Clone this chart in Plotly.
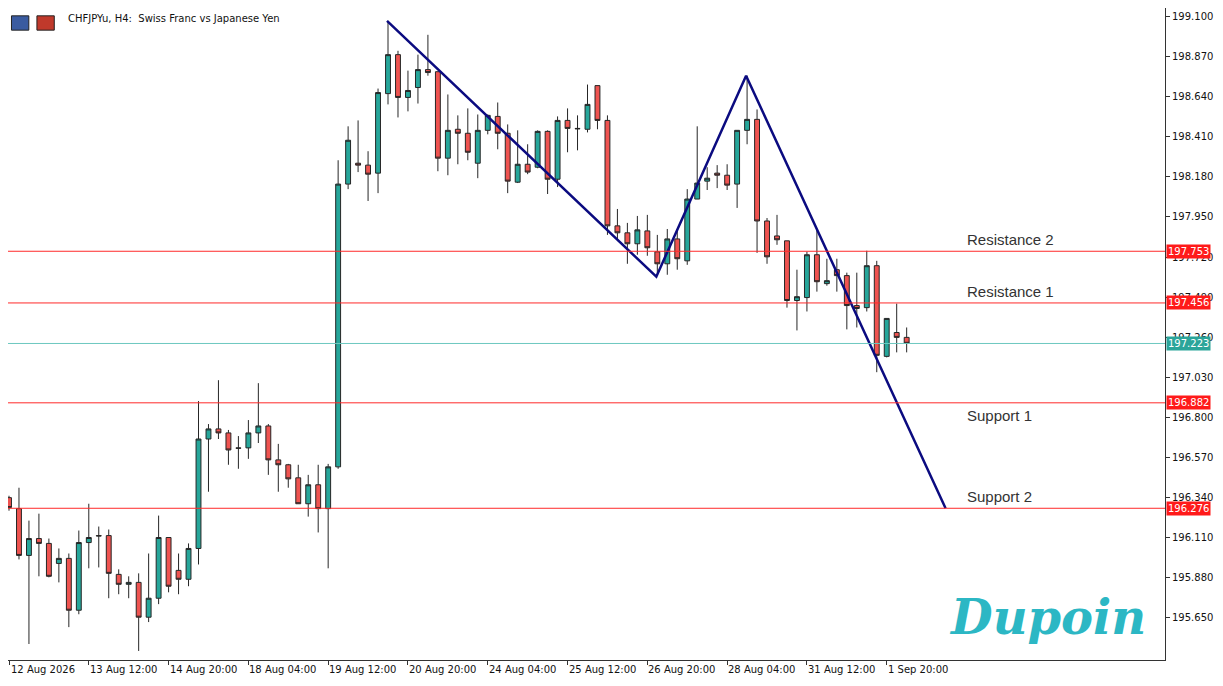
import plotly.graph_objects as go

# OHLC per H4 bar
opens = [196.337, 196.274, 196.005, 196.102, 196.074, 195.959, 195.988, 195.690, 196.079, 196.119,
         196.119, 195.896, 195.839, 195.850, 195.650, 195.759, 196.108, 195.919, 195.868, 196.045,
         196.674, 196.732, 196.709, 196.623, 196.623, 196.709, 196.749, 196.554, 196.526, 196.451,
         196.302, 196.411, 196.274, 196.514, 198.139, 198.259, 198.248, 198.202, 198.659, 198.883,
         198.637, 198.694, 198.797, 198.785, 198.288, 198.454, 198.431, 198.259, 198.448, 198.528,
         198.431, 198.150, 198.253, 198.236, 198.442, 198.167, 198.505, 198.459, 198.454, 198.705,
         198.505, 197.899, 197.859, 197.796, 197.870, 197.750, 197.681, 197.824, 197.698, 198.053,
         198.156, 198.202, 198.190, 198.139, 198.448, 198.511, 197.927, 197.841, 197.813, 197.470,
         197.487, 197.733, 197.567, 197.647, 197.613, 197.441, 197.429, 197.670, 197.149, 197.286,
         197.258]
highs = [196.348, 196.394, 196.205, 196.245, 196.102, 196.045, 196.016, 196.148, 196.302, 196.171,
         196.154, 195.925, 195.885, 195.902, 196.016, 196.234, 196.108, 196.016, 196.074, 196.892,
         196.760, 197.012, 196.726, 196.691, 196.783, 196.995, 196.760, 196.646, 196.531, 196.526,
         196.468, 196.526, 196.531, 198.276, 198.471, 198.505, 198.328, 198.688, 199.077, 198.905,
         198.791, 198.883, 198.997, 198.785, 198.654, 198.534, 198.574, 198.539, 198.539, 198.608,
         198.482, 198.448, 198.368, 198.448, 198.448, 198.528, 198.574, 198.534, 198.711, 198.705,
         198.534, 197.996, 197.916, 197.956, 197.962, 197.847, 197.881, 197.881, 198.110, 198.471,
         198.236, 198.248, 198.253, 198.448, 198.762, 198.568, 197.944, 197.962, 197.813, 197.647,
         197.750, 197.876, 197.710, 197.710, 197.630, 197.630, 197.756, 197.698, 197.367, 197.452,
         197.315]
lows = [196.262, 195.982, 195.496, 195.885, 195.879, 195.850, 195.593, 195.667, 195.931, 195.936,
        195.759, 195.782, 195.759, 195.456, 195.622, 195.725, 195.793, 195.782, 195.828, 195.953,
        196.371, 196.674, 196.526, 196.503, 196.560, 196.651, 196.468, 196.371, 196.394, 196.302,
        196.228, 196.137, 195.931, 196.503, 198.110, 198.208, 198.042, 198.087, 198.597, 198.522,
        198.557, 198.602, 198.762, 198.213, 198.190, 198.253, 198.276, 198.173, 198.425, 198.339,
        198.087, 198.145, 198.196, 198.230, 198.082, 198.122, 198.322, 198.333, 198.436, 198.454,
        197.847, 197.824, 197.681, 197.733, 197.727, 197.624, 197.618, 197.647, 197.675, 198.053,
        198.105, 198.116, 198.105, 198.002, 198.368, 197.744, 197.681, 197.790, 197.429, 197.298,
        197.407, 197.521, 197.555, 197.521, 197.304, 197.315, 197.407, 197.058, 197.143, 197.172,
        197.172]
closes = [196.280, 196.005, 196.102, 196.074, 195.885, 195.988, 195.690, 196.079, 196.108, 196.117,
          195.902, 195.839, 195.850, 195.650, 195.759, 196.108, 195.828, 195.868, 196.045, 196.674,
          196.732, 196.709, 196.611, 196.621, 196.709, 196.749, 196.554, 196.526, 196.445, 196.302,
          196.411, 196.274, 196.514, 198.139, 198.391, 198.248, 198.196, 198.665, 198.883, 198.637,
          198.677, 198.797, 198.780, 198.288, 198.448, 198.431, 198.322, 198.448, 198.534, 198.431,
          198.156, 198.253, 198.208, 198.442, 198.167, 198.505, 198.459, 198.457, 198.597, 198.505,
          197.899, 197.859, 197.796, 197.876, 197.773, 197.681, 197.824, 197.710, 198.053, 198.145,
          198.173, 198.190, 198.133, 198.448, 198.511, 197.927, 197.721, 197.819, 197.470, 197.492,
          197.733, 197.578, 197.584, 197.613, 197.441, 197.424, 197.670, 197.155, 197.367, 197.258,
          197.224]
bars = list(range(len(opens)))

date_labels = ["12 Aug 2026", "13 Aug 12:00", "14 Aug 20:00", "18 Aug 04:00", "19 Aug 12:00",
               "20 Aug 20:00", "24 Aug 04:00", "25 Aug 12:00", "26 Aug 20:00", "28 Aug 04:00",
               "31 Aug 12:00", "1 Sep 20:00"]
label_bars = [8 * i for i in range(len(date_labels))]

# drawn levels
levels = [197.753, 197.456, 196.882, 196.276]
level_names = ["Resistance 2", "Resistance 1", "Support 1", "Support 2"]
current_price = 197.223

# zigzag trend line
trend_x = [37.9, 64.9, 73.9, 93.9]
trend_y = [199.077, 197.607, 198.762, 196.276]

price_ticks = [199.100, 198.870, 198.640, 198.410, 198.180, 197.950, 197.720, 197.490,
               197.260, 197.030, 196.800, 196.570, 196.340, 196.110, 195.880, 195.650]

RED = "#ff2a2a"
FONT = "DejaVu Sans"
fig = go.Figure()
fig.add_trace(go.Candlestick(
    x=bars, open=opens, high=highs, low=lows, close=closes,
    increasing=dict(fillcolor="#26a69a", line=dict(color="#262626", width=1)),
    decreasing=dict(fillcolor="#ef5350", line=dict(color="#262626", width=1)),
    whiskerwidth=0, showlegend=False, hoverinfo="skip"))

fig.add_trace(go.Scatter(x=trend_x, y=trend_y, mode="lines",
                         line=dict(color="#0b0b80", width=2.5), showlegend=False))

for lv in levels:
    fig.add_hline(y=lv, line=dict(color=RED, width=1))
    fig.add_annotation(x=1, xref="paper", y=lv, text="%.3f" % lv, showarrow=False,
                       xanchor="left", xshift=1, bgcolor="#ff1a1a",
                       font=dict(color="white", size=10, family=FONT), borderpad=1)
fig.add_hline(y=current_price, line=dict(color="#6cc8c0", width=1))
fig.add_annotation(x=1, xref="paper", y=current_price, text="%.3f" % current_price,
                   showarrow=False, xanchor="left", xshift=1, bgcolor="#2ba59a",
                   font=dict(color="white", size=10, family=FONT), borderpad=1)

for lv, name in zip(levels, level_names):
    above = name != "Support 1"
    fig.add_annotation(x=95.8, y=lv, text=name, showarrow=False, xanchor="left",
                       yanchor="bottom" if above else "top", yshift=1 if above else -2,
                       font=dict(size=15, color="#333", family="Liberation Sans"))

for b, lab in zip(label_bars, date_labels):
    fig.add_annotation(x=max(b - 0.1, 0), xref="x", y=0, yref="paper", text=lab,
                       showarrow=False, xanchor="left", yanchor="top", yshift=-2,
                       font=dict(size=10, color="#111", family=FONT))

fig.add_annotation(x=0.05, xref="paper", y=1.0, yref="paper",
                   text="CHFJPYu, H4:  Swiss Franc vs Japanese Yen", showarrow=False,
                   xanchor="left", yanchor="top", yshift=-3,
                   font=dict(size=10, color="#111", family=FONT))
fig.add_shape(type="rect", xref="paper", yref="paper", x0=0.003, x1=0.018, y0=0.966, y1=0.988,
              fillcolor="#3a5ba0", line=dict(color="#222", width=1))
fig.add_shape(type="rect", xref="paper", yref="paper", x0=0.025, x1=0.040, y0=0.966, y1=0.988,
              fillcolor="#c0392b", line=dict(color="#222", width=1))

fig.add_annotation(x=0.985, xref="paper", y=0.02, yref="paper", text="<i><b>Dupoin</b></i>",
                   showarrow=False, xanchor="right", yanchor="bottom",
                   font=dict(size=48, color="#2cb7c4", family="DejaVu Serif"))

fig.update_layout(
    width=1207, height=670, margin=dict(l=0, r=50, t=0, b=18, autoexpand=False),
    plot_bgcolor="white", paper_bgcolor="white",
    xaxis=dict(range=[-0.1, 115.9], rangeslider=dict(visible=False), showgrid=False,
               showticklabels=False, tickvals=label_bars, ticks="outside", ticklen=4,
               tickcolor="#333", showline=True, linecolor="#333", mirror=True, zeroline=False,
               automargin=False),
    yaxis=dict(range=[195.404, 199.151], side="right", tickvals=price_ticks,
               tickformat=".3f", ticks="outside", ticklen=4, tickcolor="#333",
               showgrid=False, showline=True, linecolor="#333", mirror=True, zeroline=False,
               automargin=False, tickfont=dict(size=10, color="#111", family=FONT)),
)

fig.write_html("out.html")
